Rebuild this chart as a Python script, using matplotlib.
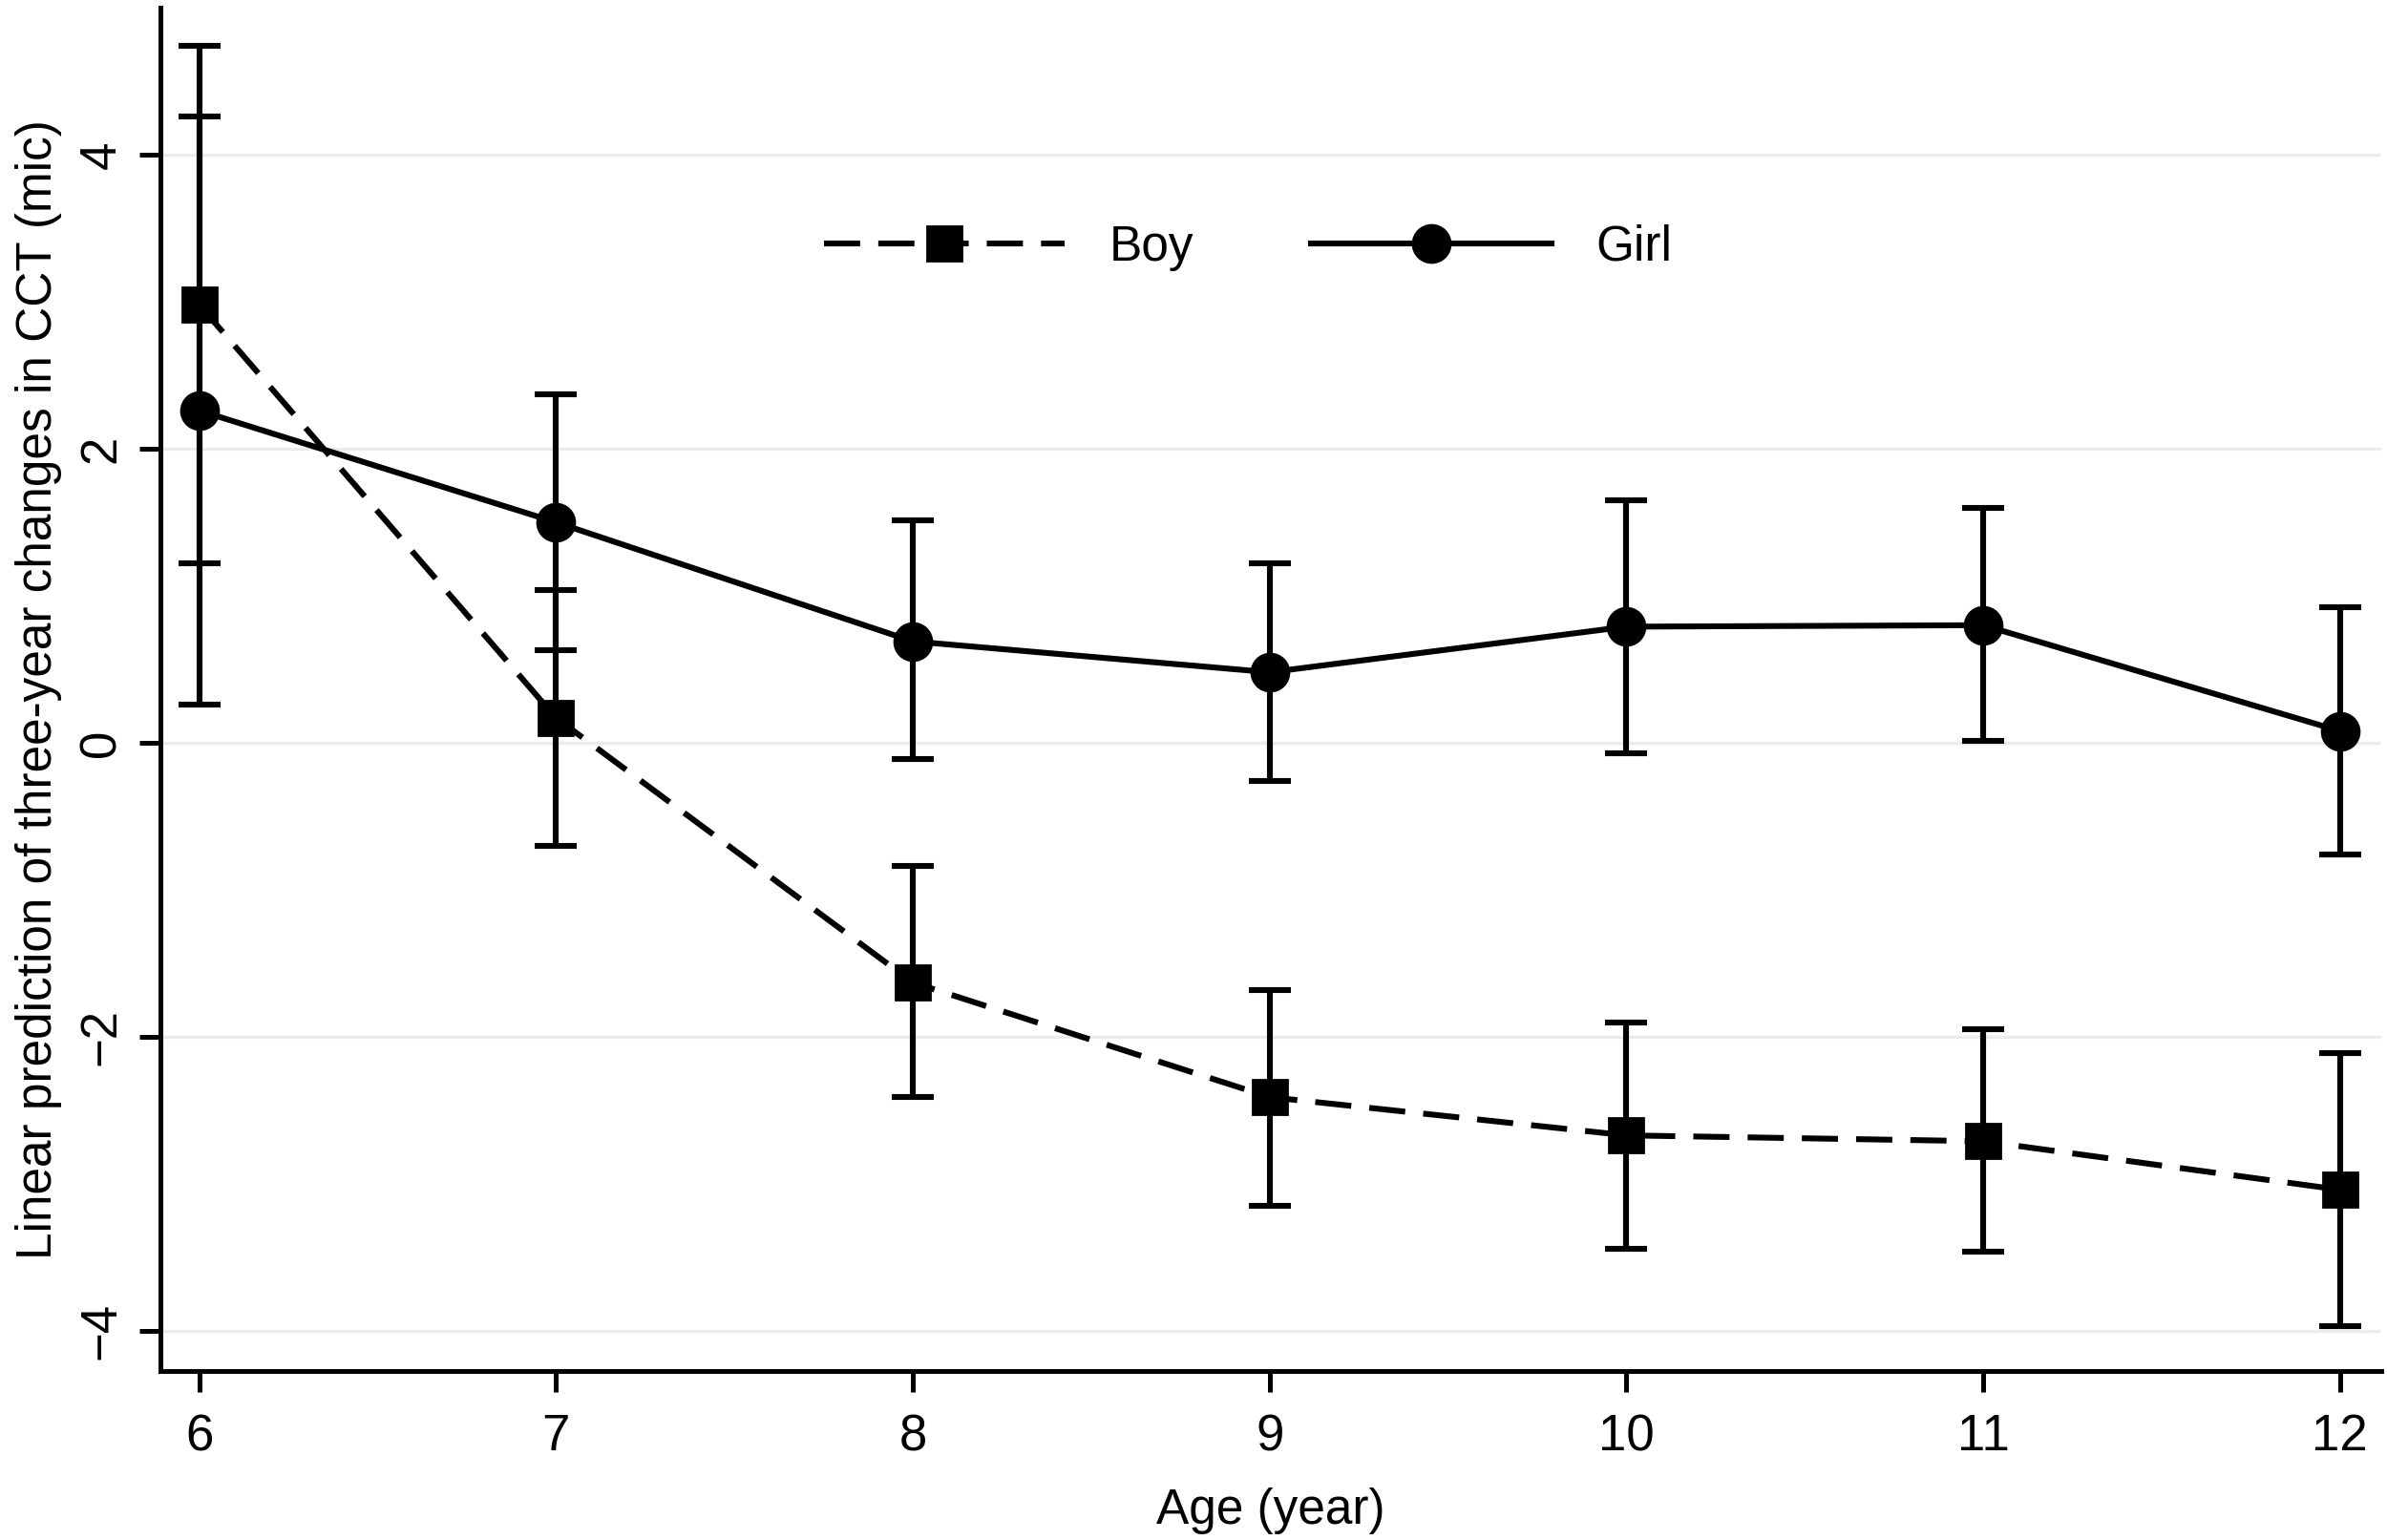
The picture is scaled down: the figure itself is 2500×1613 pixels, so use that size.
import matplotlib.pyplot as plt
import numpy as np

plt.rcParams['font.family'] = ['Liberation Sans', 'DejaVu Sans']

# data
ages = [6, 7, 8, 9, 10, 11, 12]
boy = [2.98, 0.17, -1.63, -2.41, -2.67, -2.71, -3.04]
boy_lo = [1.22, -0.70, -2.41, -3.15, -3.44, -3.46, -3.97]
boy_hi = [4.74, 1.04, -0.84, -1.68, -1.90, -1.95, -2.11]
girl = [2.26, 1.50, 0.69, 0.48, 0.79, 0.80, 0.08]
girl_lo = [0.26, 0.63, -0.11, -0.26, -0.07, 0.01, -0.76]
girl_hi = [4.26, 2.37, 1.51, 1.22, 1.65, 1.60, 0.92]
y_ticks = [-4, -2, 0, 2, 4]

fig = plt.figure(figsize=(12.5, 8.065), dpi=200)
ax = fig.add_axes([0.067, 0.110, 0.9305, 0.885])

for v in y_ticks:
    ax.axhline(v, color='#ececec', lw=1.2, zorder=0)

boy_err = [np.array(boy) - np.array(boy_lo), np.array(boy_hi) - np.array(boy)]
girl_err = [np.array(girl) - np.array(girl_lo), np.array(girl_hi) - np.array(girl)]

lw = 2.2
ax.errorbar(ages, boy, yerr=boy_err, fmt='none', ecolor='black',
            elinewidth=lw, capsize=8, capthick=lw, zorder=2)
ax.errorbar(ages, girl, yerr=girl_err, fmt='none', ecolor='black',
            elinewidth=lw, capsize=8, capthick=lw, zorder=2)
ax.plot(ages, boy, color='black', lw=lw, ls=(0, (6.2, 3.1)),
        marker='s', ms=13, label='Boy', zorder=3)
ax.plot(ages, girl, color='black', lw=lw, ls='-',
        marker='o', ms=14, label='Girl', zorder=3)

ax.set_xlim(5.89, 12.115)
ax.set_ylim(-4.27, 5.0)
ax.set_xticks(ages)
ax.set_yticks(y_ticks)
ax.set_yticklabels(['\u22124', '\u22122', '0', '2', '4'], rotation=90, va='center')

ax.spines['top'].set_visible(False)
ax.spines['right'].set_visible(False)
for s in ['left', 'bottom']:
    ax.spines[s].set_linewidth(1.8)
ax.tick_params(axis='both', direction='out', length=8, width=1.8,
               labelsize=19, pad=8)
ax.tick_params(axis='y', pad=5)

ax.set_xlabel('Age (year)', fontsize=18.5, labelpad=10)
ax.set_ylabel('Linear prediction of three-year changes in CCT (mic)',
              fontsize=18.5, labelpad=6)

ax.legend(loc='center', bbox_to_anchor=(0.49, 0.824), ncol=2,
          frameon=False, prop={'size': 18.5, 'weight': 'medium'},
          handlelength=4.9, handletextpad=0.9, columnspacing=2.4)

fig.savefig('out.png', dpi=200)
